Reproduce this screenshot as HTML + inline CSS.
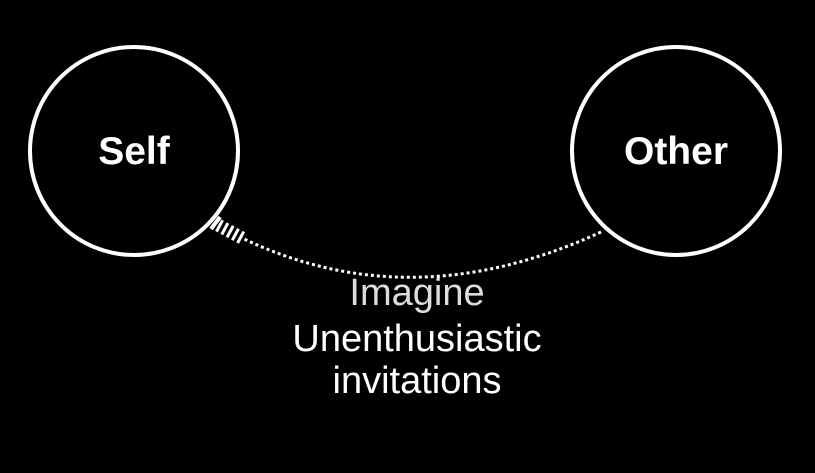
<!DOCTYPE html>
<html><head><style>
html,body{margin:0;padding:0;background:#000;}
svg{display:block;}
</style></head><body>
<svg width="815" height="473" viewBox="0 0 815 473" xmlns="http://www.w3.org/2000/svg">
<rect width="815" height="473" fill="#000"/>
<circle cx="134" cy="151" r="104" fill="none" stroke="#fff" stroke-width="4"/>
<circle cx="676" cy="151" r="104" fill="none" stroke="#fff" stroke-width="4"/>
<path d="M601,232 Q410,320 240,237" fill="none" stroke="#fff" stroke-width="3" stroke-dasharray="3,3"/>
<path d="M242,238 L216,224" fill="none" stroke="#fff" stroke-width="13" stroke-dasharray="3,3"/>
<line x1="211" y1="229" x2="220" y2="217" stroke="#fff" stroke-width="4"/>
<g font-family="Liberation Sans, sans-serif" fill="#fff" text-anchor="middle">
<text x="134" y="164" font-size="39" font-weight="bold">Self</text>
<text x="676" y="164" font-size="39" font-weight="bold">Other</text>
<text x="417" y="305" font-size="38" fill="#ddd">Imagine</text>
<text x="417" y="351" font-size="38">Unenthusiastic</text>
<text x="417" y="393" font-size="38">invitations</text>
</g>
</svg>
</body></html>
